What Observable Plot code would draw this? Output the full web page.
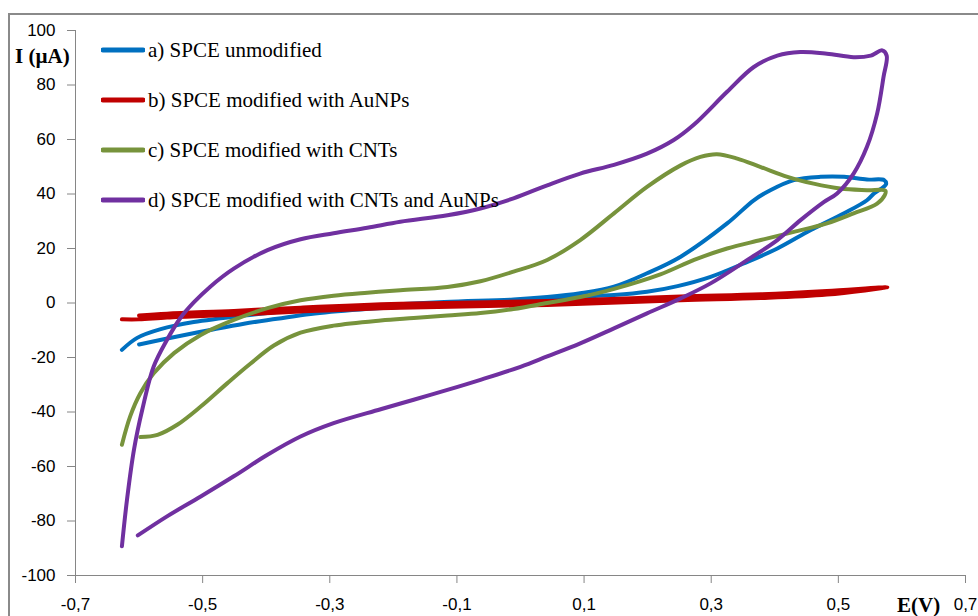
<!DOCTYPE html>
<html><head><meta charset="utf-8">
<script src="https://cdn.jsdelivr.net/npm/d3@7"></script>
<script src="https://cdn.jsdelivr.net/npm/@observablehq/plot@0.6"></script>
<style>
html,body{margin:0;padding:0;background:#fff;overflow:hidden}
#wrap{position:relative;width:978px;height:616px;overflow:hidden}
#frame{position:absolute;left:8px;top:13px;width:1000px;height:640px;border:2px solid #8a8a8a;box-sizing:border-box}
#chart{position:absolute;left:0;top:0}
#legend{position:absolute;left:101px;top:36px;font-family:"Liberation Serif","Times New Roman",serif;font-size:21px;color:#000}
.row{display:flex;align-items:center;height:28px;margin-bottom:22px;white-space:nowrap}
.row svg{margin-right:3px}
.lab{position:absolute;font-family:"Liberation Serif","Times New Roman",serif;font-weight:bold;font-size:21px;line-height:21px;color:#000;white-space:nowrap}
</style></head><body>
<div id="wrap"><div id="frame"></div><div id="chart"></div><div id="legend"></div>
<div class="lab" id="ylab" style="left:15px;top:46px">I (µA)</div>
<div class="lab" id="xlab" style="left:897px;top:595px">E(V)</div>
</div>
<script>
// Series names and colors
const seriesNames = ["a) SPCE unmodified", "b) SPCE modified with AuNPs", "c) SPCE modified with CNTs", "d) SPCE modified with CNTs and AuNPs"];
const seriesColors = ["#0070C0", "#C00000", "#77933C", "#7030A0"];

// Axis ticks
const xTicks = [-0.7, -0.5, -0.3, -0.1, 0.1, 0.3, 0.5, 0.7];
const yTicks = [-100, -80, -60, -40, -20, 0, 20, 40, 60, 80, 100];

// a) SPCE unmodified (E in V, I in µA), scan order
const aE = [-0.627,-0.603,-0.566,-0.514,-0.435,-0.357,-0.252,-0.120,-0.011,0.042,0.094,0.147,0.199,0.252,0.325,0.367,0.393,0.430,0.472,0.509,0.545,0.572,0.575,
            0.556,0.545,0.509,0.456,0.404,0.351,0.299,0.247,0.199,0.147,0.094,0.042,-0.063,-0.189,-0.252,-0.330,-0.383,-0.435,-0.488,-0.540,-0.600];
const aI = [-17.2,-12.8,-9.6,-7.0,-4.6,-2.8,-1.2,0.4,1.3,2.2,3.6,6.0,10.9,17.0,29.2,37.7,41.4,45.1,46.3,46.3,45.3,45.1,43.6,
            40.2,37.7,32.9,26.7,20.0,14.5,9.6,6.2,4.1,2.9,2.3,1.7,-0.2,-1.5,-2.4,-4.0,-5.8,-7.6,-9.9,-12.3,-15.2];

// b) SPCE modified with AuNPs
const bE = [-0.627,-0.600,-0.556,-0.451,-0.346,-0.189,0.042,0.252,0.378,0.482,0.577,
            0.482,0.378,0.252,0.042,-0.189,-0.346,-0.451,-0.556,-0.600];
const bI = [-6.0,-6.0,-5.3,-4.3,-3.1,-1.7,-0.7,1.0,1.8,3.1,5.8,
            4.4,3.2,2.4,0.7,-0.3,-1.7,-2.9,-3.9,-4.6];

// c) SPCE modified with CNTs
const cE = [-0.627,-0.614,-0.598,-0.577,-0.545,-0.503,-0.451,-0.398,-0.346,-0.294,-0.241,-0.189,-0.115,-0.063,-0.011,0.042,0.094,0.147,0.199,0.252,0.283,0.309,0.341,0.378,0.420,0.461,0.503,0.545,0.574,
            0.573,0.561,0.524,0.482,0.430,0.378,0.325,0.273,0.220,0.146,0.094,0.042,-0.011,-0.063,-0.115,-0.168,-0.220,-0.294,-0.346,-0.388,-0.425,-0.461,-0.503,-0.540,-0.571,-0.598];
const cI = [-52.0,-41.6,-33.1,-25.8,-18.4,-11.7,-6.2,-1.9,1.0,2.7,3.8,4.7,5.9,8.0,11.5,15.8,23.1,32.9,42.6,50.5,53.6,54.6,53.0,49.9,46.3,43.8,42.0,41.4,41.2,
            39.6,36.5,32.9,29.2,26.1,23.1,20.0,15.8,10.5,5.1,2.2,0.0,-2.2,-3.7,-4.6,-5.5,-6.4,-8.3,-10.9,-15.6,-22.3,-29.4,-38.0,-44.7,-48.4,-49.2];

// d) SPCE modified with CNTs and AuNPs
const dE = [-0.627,-0.619,-0.608,-0.595,-0.577,-0.556,-0.535,-0.514,-0.488,-0.451,-0.398,-0.346,-0.294,-0.241,-0.189,-0.115,-0.063,-0.011,0.042,0.094,0.147,0.199,0.241,0.273,0.325,0.367,0.404,0.440,0.482,0.524,0.551,0.569,0.576,
            0.571,0.561,0.545,0.524,0.498,0.477,0.4405,0.404,0.357,0.299,0.252,0.199,0.147,0.094,0.042,0.000,-0.063,-0.115,-0.168,-0.220,-0.294,-0.346,-0.398,-0.451,-0.503,-0.556,-0.602];
const dI = [-89.3,-72.2,-53.8,-39.2,-23.3,-13.5,-5.5,0.2,6.0,12.6,19.4,23.4,25.6,27.6,29.8,32.2,34.7,38.4,43.2,47.5,50.7,54.8,59.8,65.5,77.5,86.6,90.8,92.1,91.5,90.2,90.8,92.7,90.8,
            82.9,69.5,57.3,47.5,40.2,37.0,30.4,23.1,15.8,7.2,1.7,-3.8,-9.3,-14.8,-19.6,-23.4,-28.2,-31.9,-35.5,-39.0,-44.1,-49.0,-55.7,-63.6,-71.0,-78.3,-85.3];

const seriesData = [[aE, aI], [bE, bI], [cE, cI], [dE, dI]];
const rows = [];
seriesData.forEach(([E, I], k) => {
  E.forEach((e, i) => rows.push({series: seriesNames[k], E: e, I: I[i]}));
});

const axisColor = "#868686";
const chart = Plot.plot({
  width: 978, height: 616,
  marginLeft: 75, marginRight: 13, marginTop: 30, marginBottom: 41,
  style: {fontFamily: "'Liberation Sans', Arial, sans-serif", fontSize: "17px", color: "#000", background: "transparent", overflow: "visible"},
  x: {domain: [-0.7, 0.7]},
  y: {domain: [-100, 100]},
  color: {domain: seriesNames, range: seriesColors},
  marks: [
    Plot.ruleY([-100], {stroke: axisColor, strokeWidth: 1}),
    Plot.ruleX([-0.7], {stroke: axisColor, strokeWidth: 1}),
    Plot.axisX({ticks: xTicks, tickFormat: d => d.toFixed(1).replace(".", ","), tickSize: 8, tickPadding: 14, label: null, stroke: axisColor, fill: "#000"}),
    Plot.axisY({ticks: yTicks, tickFormat: d => String(d), tickSize: 8, tickPadding: 12, label: null, stroke: axisColor, fill: "#000"}),
    Plot.line(rows, {x: "E", y: "I", z: "series", stroke: "series", strokeWidth: 4, curve: "catmull-rom"})
  ]
});
document.getElementById("chart").appendChild(chart);

// legend
const leg = document.getElementById("legend");
seriesNames.forEach((n, k) => {
  const row = document.createElement("div");
  row.className = "row";
  row.innerHTML = `<svg width="44" height="8"><line x1="2" y1="4" x2="42" y2="4" stroke="${seriesColors[k]}" stroke-width="5" stroke-linecap="round"/></svg><span>${n}</span>`;
  leg.appendChild(row);
});
</script>
</body></html>
